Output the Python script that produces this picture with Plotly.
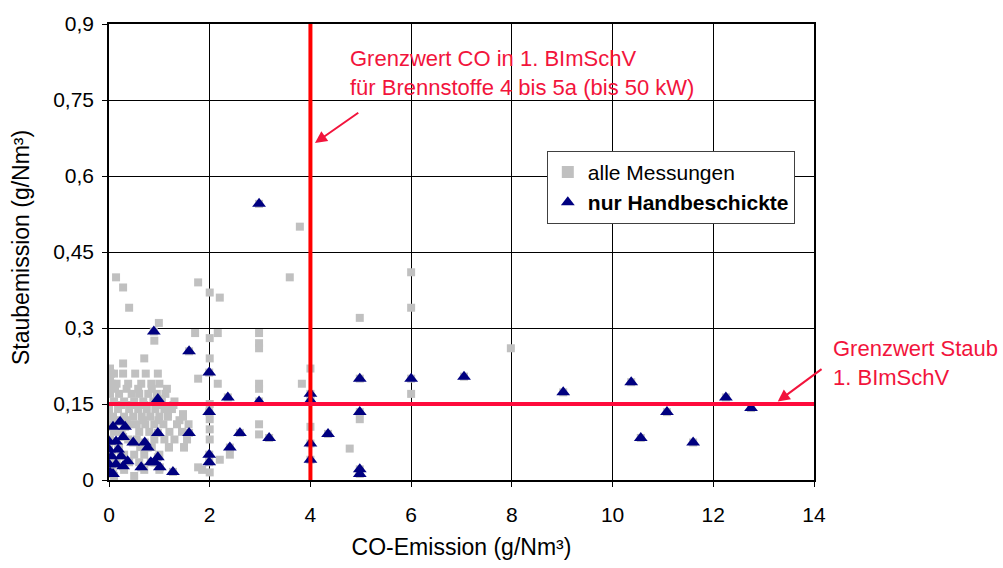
import plotly.graph_objects as go

# ---- data ----
# all measurements that are NOT hand-fired (grey squares)
other_x = [0.14, 0.28, 0.40, 0.99, 1.77, 2.00, 2.20, 1.71, 2.00, 2.16, 2.98, 2.98, 2.98, 0.90, 2.00, 0.70, 0.28, 0.02,
           3.79, 3.59, 6.00, 6.00, 4.98, 4.00, 3.83, 2.98, 2.98, 6.00, 4.98, 2.98, 2.98, 4.00, 4.78, 7.98,
           2.16, 1.77, 2.00, 2.00, 2.00, 2.00, 2.20, 1.85, 2.00, 1.77, 1.49, 1.19, 1.47, 1.17, 4.98, 2.40,
           0.02, 0.02, 0.10,
           0.04, 0.28, 0.52, 0.73, 0.97,
           0.05, 0.15, 0.38, 0.64, 0.84, 1.00,
           0.02, 0.20, 0.45, 0.60, 0.78, 0.95, 1.12,
           0.10, 0.30, 0.50, 0.68, 0.88, 1.05, 1.30,
           0.00, 0.18, 0.40, 0.58, 0.75, 0.92, 1.10, 1.25,
           0.08, 0.30, 0.48, 0.65, 0.82, 1.00, 1.17, 1.47,
           0.00, 0.40, 0.55, 0.72, 0.90, 1.08, 1.35, 1.58,
           0.10, 0.25, 0.60, 0.80, 1.20, 1.45,
           0.02, 0.38, 0.55, 0.90, 1.10, 1.30, 1.55,
           0.20, 0.62, 0.85, 1.19, 1.49,
           0.00, 0.30, 0.50, 0.70, 1.00,
           0.15, 0.40, 0.60, 0.90,
           0.05, 0.30, 0.70, 1.00,
           0.10, 0.50,
           0.12, 0.35, 0.58, 0.85, 1.15, 0.25, 0.45, 0.70, 1.00, 1.28, 0.12, 0.35, 0.68, 0.98, 1.40]
other_y = [0.40, 0.38, 0.34, 0.31, 0.39, 0.37, 0.36, 0.29, 0.28, 0.29, 0.29, 0.27, 0.26, 0.275, 0.24, 0.24, 0.23, 0.22,
           0.50, 0.40, 0.41, 0.34, 0.32, 0.22, 0.19, 0.19, 0.18, 0.17, 0.12, 0.11, 0.09, 0.105, 0.062, 0.26,
           0.19, 0.20, 0.15, 0.12, 0.10, 0.08, 0.04, 0.02, 0.015, 0.025, 0.064, 0.064, 0.13, 0.13, 0.015, 0.05,
           0.18, 0.20, 0.21,
           0.21, 0.21, 0.21, 0.21, 0.21,
           0.19, 0.19, 0.19, 0.19, 0.19, 0.19,
           0.17, 0.17, 0.17, 0.17, 0.17, 0.17, 0.17,
           0.155, 0.155, 0.155, 0.155, 0.155, 0.155, 0.155,
           0.14, 0.14, 0.14, 0.14, 0.14, 0.14, 0.14, 0.14,
           0.125, 0.125, 0.125, 0.125, 0.125, 0.125, 0.125, 0.125,
           0.11, 0.11, 0.11, 0.11, 0.11, 0.11, 0.11, 0.11,
           0.095, 0.095, 0.095, 0.095, 0.095, 0.095,
           0.08, 0.08, 0.08, 0.08, 0.08, 0.08, 0.08,
           0.065, 0.065, 0.065, 0.065, 0.065,
           0.05, 0.05, 0.05, 0.05, 0.05,
           0.035, 0.035, 0.035, 0.035,
           0.02, 0.02, 0.02, 0.02,
           0.008, 0.008,
           0.18, 0.18, 0.18, 0.18, 0.18, 0.148, 0.148, 0.148, 0.148, 0.148, 0.118, 0.118, 0.118, 0.118, 0.118]

# hand-fired measurements (navy triangles)
hand_x = [2.98, 0.89, 1.59, 1.99, 0.97, 2.36, 2.98, 1.99, 2.60, 2.40, 1.59, 0.97, 1.99, 1.99, 1.27,
          0.08, 0.22, 0.32, 0.00, 0.14, 0.28, 0.48, 0.71, 0.77, 0.00, 0.18, 0.05, 0.24, 0.37,
          0.00, 0.14, 0.28, 0.64, 0.83, 0.97, 1.01, 0.02, 0.08, 0.91,
          4.98, 6.00, 4.00, 4.00, 4.98, 3.18, 4.35, 4.00, 4.00, 4.98, 4.98,
          7.05, 9.02, 10.37, 11.08, 10.56, 11.60, 12.25, 12.75]
hand_y = [0.545, 0.293, 0.254, 0.212, 0.160, 0.163, 0.155, 0.134, 0.093, 0.064, 0.093, 0.093, 0.050, 0.035, 0.016,
          0.105, 0.115, 0.105, 0.076, 0.076, 0.085, 0.074, 0.074, 0.064, 0.060, 0.060, 0.047, 0.047, 0.037,
          0.031, 0.031, 0.027, 0.025, 0.035, 0.045, 0.025, 0.015, 0.012, 0.035,
          0.200, 0.200, 0.170, 0.157, 0.134, 0.083, 0.091, 0.072, 0.040, 0.021, 0.012,
          0.204, 0.173, 0.193, 0.134, 0.083, 0.074, 0.163, 0.142]

x_ticks = [0, 2, 4, 6, 8, 10, 12, 14]
y_ticks = [0, 0.15, 0.3, 0.45, 0.6, 0.75, 0.9]
y_ticktext = ["0", "0,15", "0,3", "0,45", "0,6", "0,75", "0,9"]

co_limit = 4
dust_limit = 0.15

FONT = "Liberation Sans, Arial, sans-serif"
RED = "#FF0000"
RED_TXT = "#F2143C"

fig = go.Figure()
fig.add_trace(go.Scatter(
    x=other_x + hand_x, y=other_y + hand_y, mode="markers", name="alle Messungen",
    marker=dict(symbol="square", size=8, color="#C0C0C0", line=dict(width=0)),
))
fig.add_trace(go.Scatter(
    x=hand_x, y=hand_y, mode="markers", name="<b>nur Handbeschickte</b>",
    marker=dict(symbol="triangle-up", size=12, color="#000080", line=dict(width=0)),
))

# limit lines
fig.add_shape(type="line", x0=co_limit, x1=co_limit, y0=0, y1=0.9, xref="x", yref="y",
              line=dict(color=RED, width=4), layer="above")
fig.add_shape(type="line", x0=0, x1=14, y0=dust_limit, y1=dust_limit, xref="x", yref="y",
              line=dict(color="#FF0A3C", width=4), layer="above")

# texts
fig.add_annotation(x=0.339, y=0.956, xref="paper", yref="paper", xanchor="left", yanchor="top", align="left",
                   text="Grenzwert CO in 1. BImSchV<br>für Brennstoffe 4 bis 5a (bis 50 kW)",
                   showarrow=False, font=dict(family=FONT, size=22, color=RED_TXT))
fig.add_annotation(x=1.024, y=0.321, xref="paper", yref="paper", xanchor="left", yanchor="top", align="left",
                   text="Grenzwert Staub<br>1. BImSchV",
                   showarrow=False, font=dict(family=FONT, size=22, color=RED_TXT))
# y axis title placed as annotation
fig.add_annotation(x=-0.124, y=0.51, xref="paper", yref="paper", xanchor="center", yanchor="middle",
                   text="Staubemission (g/Nm³)", textangle=-90, showarrow=False,
                   font=dict(family=FONT, size=23, color="black"))
# arrows
fig.add_annotation(x=4.09, y=0.665, ax=4.98, ay=0.727, xref="x", yref="y", axref="x", ayref="y",
                   text="", showarrow=True, arrowhead=2, arrowsize=1.2, arrowwidth=2, arrowcolor=RED_TXT)
fig.add_annotation(x=13.28, y=0.155, ax=14.18, ay=0.221, xref="x", yref="y", axref="x", ayref="y",
                   text="", showarrow=True, arrowhead=2, arrowsize=1.2, arrowwidth=2, arrowcolor=RED_TXT)

fig.update_layout(
    width=1003, height=568,
    margin=dict(l=109, r=189, t=17, b=87),
    paper_bgcolor="white", plot_bgcolor="white",
    font=dict(family=FONT, size=21, color="black"),
    showlegend=True,
    legend=dict(x=0.621, y=0.722, xanchor="left", yanchor="top",
                bgcolor="white", bordercolor="#404040", borderwidth=1,
                font=dict(family=FONT, size=21, color="black"),
                itemsizing="constant", itemwidth=30, tracegroupgap=0),
)
fig.update_xaxes(range=[0, 14], tickvals=x_ticks, ticktext=[str(v) for v in x_ticks],
                 showgrid=True, gridcolor="black", gridwidth=1,
                 showline=True, linecolor="black", linewidth=1.5, mirror=True,
                 ticks="outside", ticklen=5, tickcolor="black", zeroline=False,
                 ticklabelstandoff=10,
                 title=dict(text="CO-Emission (g/Nm³)", font=dict(size=23), standoff=14))
fig.update_yaxes(range=[0, 0.9], tickvals=y_ticks, ticktext=y_ticktext,
                 showgrid=True, gridcolor="black", gridwidth=1,
                 showline=True, linecolor="black", linewidth=1.5, mirror=True,
                 ticks="outside", ticklen=5, tickcolor="black", zeroline=False,
                 ticklabelstandoff=4)

fig.write_html("out.html")
